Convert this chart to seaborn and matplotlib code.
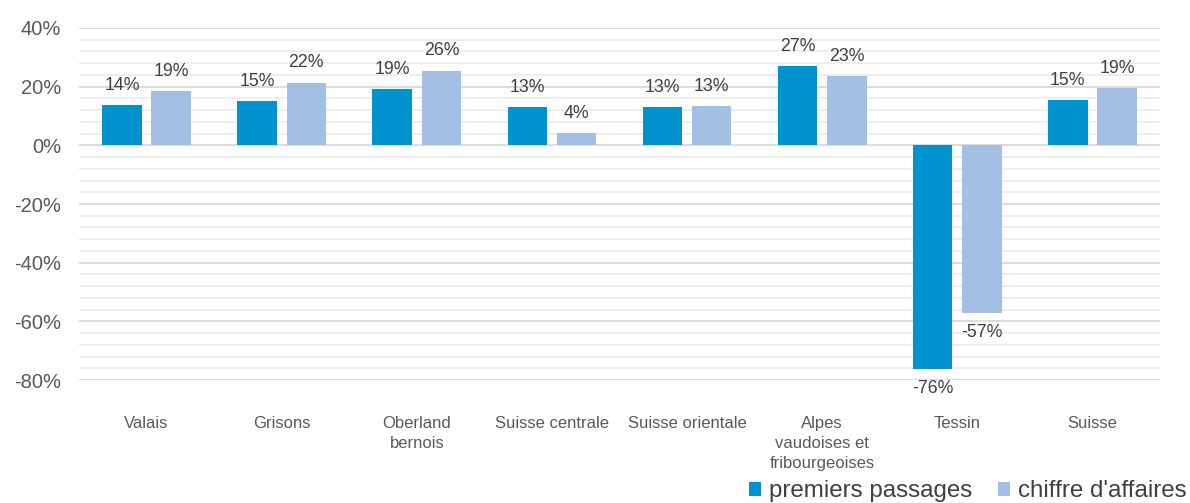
import matplotlib
matplotlib.use("Agg")
import matplotlib.pyplot as plt
import matplotlib.ticker as mticker
from matplotlib.patches import Patch
import seaborn as sns
import pandas as pd

categories = ["Valais", "Grisons", "Oberland\nbernois", "Suisse centrale", "Suisse orientale",
              "Alpes\nvaudoises et\nfribourgeoises", "Tessin", "Suisse"]
series_names = ["premiers passages", "chiffre d'affaires"]
premiers_passages = [0.136, 0.150, 0.191, 0.129, 0.129, 0.269, -0.763, 0.153]
chiffre_affaires = [0.184, 0.214, 0.255, 0.041, 0.133, 0.235, -0.572, 0.194]
labels_pp = ["14%", "15%", "19%", "13%", "13%", "27%", "-76%", "15%"]
labels_ca = ["19%", "22%", "26%", "4%", "13%", "23%", "-57%", "19%"]
colors = ["#0093D0", "#A3BFE3"]

df = pd.DataFrame({
    "cat": categories * 2,
    "serie": [series_names[0]] * len(categories) + [series_names[1]] * len(categories),
    "val": premiers_passages + chiffre_affaires,
})

sns.set_theme(style="white")
plt.rcParams["font.family"] = ["Liberation Sans", "DejaVu Sans"]

fig = plt.figure(figsize=(11.9, 5.03), dpi=100)
ax = fig.add_axes([79 / 1190, 1 - 380 / 503, (1160 - 79) / 1190, (380 - 28) / 503])

sns.barplot(data=df, x="cat", y="val", hue="serie", palette=colors, order=categories,
            hue_order=series_names, width=0.73, gap=0.2, linewidth=0, saturation=1,
            legend=False, ax=ax)

ax.set_ylim(-0.8, 0.4)
ax.set_xlim(-0.5, len(categories) - 0.5)
ax.yaxis.set_major_locator(mticker.MultipleLocator(0.2))
ax.yaxis.set_minor_locator(mticker.MultipleLocator(0.04))
ax.yaxis.set_major_formatter(mticker.FuncFormatter(lambda v, p: f"{v * 100:.0f}%"))
ax.grid(axis="y", which="major", color="#D9D9D9", linewidth=1.3, zorder=0)
ax.grid(axis="y", which="minor", color="#EDEDED", linewidth=1.3, zorder=0)
ax.grid(axis="x", visible=False)
ax.set_axisbelow(True)
for s in ax.spines.values():
    s.set_visible(False)
ax.set_xlabel("")
ax.set_ylabel("")
ax.tick_params(axis="y", which="both", length=0, labelsize=14.5, labelcolor="#595959", pad=13)
ax.tick_params(axis="x", length=0, labelsize=12, labelcolor="#595959", pad=26)
for t in ax.get_xticklabels():
    t.set_verticalalignment("top")
    t.set_linespacing(1.4)

for cont, labs in zip(ax.containers, [labels_pp, labels_ca]):
    ax.bar_label(cont, labels=labs, padding=8, fontsize=12.8, color="#404040")

handles = [Patch(facecolor=c, edgecolor="none", label=n) for c, n in zip(colors, series_names)]
fig.legend(handles=handles, loc="lower right", bbox_to_anchor=(1196 / 1190, -0.018), ncol=2,
           frameon=False, fontsize=17.4, handlelength=0.5, handleheight=0.5, handletextpad=0.3,
           columnspacing=1.1, labelcolor="#404040", borderaxespad=0)

fig.savefig("out.png", dpi=100)
